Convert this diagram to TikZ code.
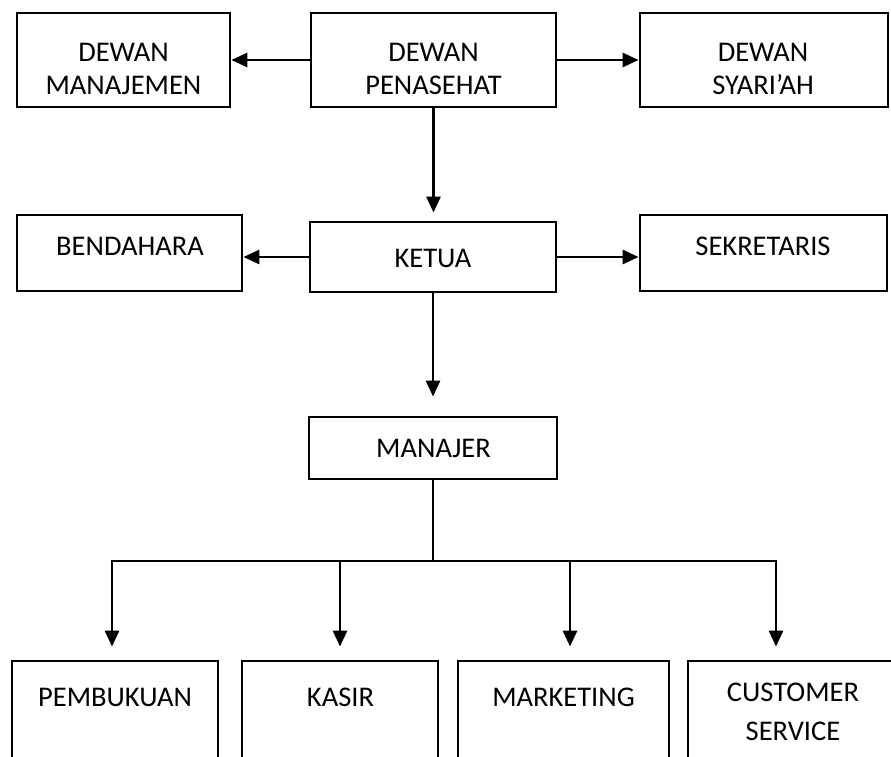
\documentclass[tikz,border=0pt]{standalone}
\usepackage{fontspec}
\setmainfont{Carlito}
\usetikzlibrary{arrows.meta,calc}
\begin{document}
\begin{tikzpicture}[x=1pt,y=-1pt,
  box/.style={draw=black,line width=2.8pt,rectangle,inner sep=0pt},
  lbl/.style={inner sep=0pt,align=center,font=\fontsize{28.5}{33}\selectfont},
  lbltall/.style={inner sep=0pt,align=center,font=\fontsize{28.5}{39}\selectfont},
  conn/.style={line width=2.8pt},
  arr/.style={line width=2.8pt,-{Triangle[length=16pt,width=14pt]}}]
\useasboundingbox (0,0) rectangle (891,756);
\clip (0,0) rectangle (891,756);
% boxes
\node[box,minimum width=213pt,minimum height=94pt] (dm) at (123.5,60) {};
\node[box,minimum width=245pt,minimum height=94pt] (dp) at (433.5,60) {};
\node[box,minimum width=248pt,minimum height=94pt] (ds) at (764,60) {};
\node[box,minimum width=225pt,minimum height=76pt] (bd) at (129.5,253) {};
\node[box,minimum width=246pt,minimum height=70pt] (kt) at (433,257) {};
\node[box,minimum width=247pt,minimum height=76pt] (sk) at (763.5,253) {};
\node[box,minimum width=248pt,minimum height=62pt] (mj) at (433,448) {};
\node[box,minimum width=206pt,minimum height=130pt] (pb) at (115,726) {};
\node[box,minimum width=196pt,minimum height=130pt] (ks) at (340,726) {};
\node[box,minimum width=211pt,minimum height=130pt] (mk) at (563.5,726) {};
\node[box,minimum width=230pt,minimum height=130pt] (cs) at (803,726) {};
% labels
\node[lbl] (tdm) at (123.5,68.5) {DEWAN\\MANAJEMEN};
\node[lbl] (tdp) at (433.5,68.5) {DEWAN\\PENASEHAT};
\node[lbl] (tds) at (763,68.5) {DEWAN\\SYARI’AH};
\node[lbl] (tbd) at (130,246) {BENDAHARA};
\node[lbl] (tkt) at (433,258) {KETUA};
\node[lbl] (tsk) at (763,246) {SEKRETARIS};
\node[lbl] (tmj) at (433.5,448) {MANAJER};
\node[lbl] (tpb) at (115,697) {PEMBUKUAN};
\node[lbl] (tks) at (340.5,697) {KASIR};
\node[lbl] (tmk) at (563.5,697) {MARKETING};
\node[lbltall] (tcs) at (793,711.5) {CUSTOMER\\SERVICE};
% connectors
\draw[arr] (dp.west) -- (dm.east);
\draw[arr] (dp.east) -- (ds.west);
\draw[arr,shorten >=8pt] (dp.south) -- (dp.south |- kt.north);
\draw[arr] (kt.west) -- (kt.west -| bd.east);
\draw[arr] (kt.east) -- (kt.east -| sk.west);
\draw[arr,shorten >=19pt] (kt.south) -- (kt.south |- mj.north);
\coordinate (j) at (433,561);
\coordinate (b1) at (112,561);
\coordinate (b2) at (340,561);
\coordinate (b3) at (570,561);
\coordinate (b4) at (776,561);
\draw[conn] (mj.south) -- (j);
\draw[conn,line cap=rect] (b1) -- (b4);
\draw[arr,shorten >=13pt] (b1) -- (b1 |- pb.north);
\draw[arr,shorten >=13pt] (b2) -- (b2 |- ks.north);
\draw[arr,shorten >=13pt] (b3) -- (b3 |- mk.north);
\draw[arr,shorten >=13pt] (b4) -- (b4 |- cs.north);
\end{tikzpicture}
\end{document}
